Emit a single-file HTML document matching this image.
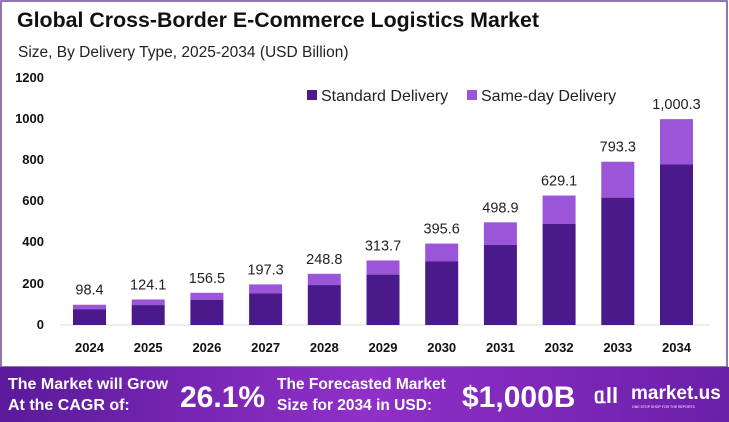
<!DOCTYPE html>
<html><head><meta charset="utf-8"><style>
body{margin:0;width:729px;height:422px;overflow:hidden;background:#fff;font-family:"Liberation Sans",sans-serif;}
</style></head><body>
<svg width="729" height="422" xmlns="http://www.w3.org/2000/svg" style="position:absolute;left:0;top:0">
<defs>
<linearGradient id="ft" x1="0" y1="0" x2="1" y2="0">
<stop offset="0" stop-color="#5a1a9a"/><stop offset="0.5" stop-color="#9030c8"/><stop offset="1" stop-color="#6a1fa8"/>
</linearGradient>
</defs>
<rect x="1" y="1" width="726" height="366" fill="#fff" stroke="#6b4a9a" stroke-width="1.5"/>
<text x="17" y="27" font-size="21" font-weight="bold" fill="#111" textLength="522" lengthAdjust="spacingAndGlyphs">Global Cross-Border E-Commerce Logistics Market</text>
<text x="18" y="57" font-size="15.5" fill="#222">Size, By Delivery Type, 2025-2034 (USD Billion)</text>
<g font-size="13" font-weight="bold" fill="#111" text-anchor="end">
<text x="44" y="82">1200</text><text x="44" y="123">1000</text><text x="44" y="164">800</text>
<text x="44" y="205">600</text><text x="44" y="246">400</text><text x="44" y="288">200</text><text x="44" y="329">0</text>
</g>
<line x1="60" y1="325" x2="710" y2="325" stroke="#ddd" stroke-width="1"/>
<rect x="307" y="90" width="10" height="10" fill="#4a1a8a"/>
<text x="321" y="101" font-size="16" fill="#222">Standard Delivery</text>
<rect x="467" y="90" width="10" height="10" fill="#9b55d8"/>
<text x="481" y="101" font-size="16" fill="#222">Same-day Delivery</text>
<g id="bars"></g>
<rect x="0" y="367" width="729" height="55" fill="url(#ft)"/>
<g fill="#fff" font-weight="bold">
<text x="8" y="389" font-size="16">The Market will Grow</text>
<text x="8" y="410" font-size="16">At the CAGR of:</text>
<text x="180" y="407" font-size="30">26.1%</text>
<text x="277" y="389" font-size="15.5">The Forecasted Market</text>
<text x="277" y="410" font-size="15.5">Size for 2034 in USD:</text>
<text x="462" y="407" font-size="30">$1,000B</text>
<text x="631" y="399" font-size="19">market.us</text>
<text x="632" y="408" font-size="3.5" font-weight="normal">ONE STOP SHOP FOR THE REPORTS</text>
<text x="594" y="403" font-size="22">ᥲll</text>
</g>
</svg>
<script>
var v=[98.4,124.1,156.5,197.3,248.8,313.7,395.6,498.9,629.1,793.3,1000.3];
var s='';var k=0.2058,z=325;
for(var i=0;i<11;i++){var x=73+i*58.7,h=v[i]*k,d=h*0.78;
s+='<rect x="'+x+'" y="'+(z-h)+'" width="33" height="'+(h-d)+'" fill="#9b55d8"/>';
s+='<rect x="'+x+'" y="'+(z-d)+'" width="33" height="'+d+'" fill="#4a1a8a"/>';
var lab=v[i]>=1000?'1,000.3':v[i].toFixed(1);
s+='<text x="'+(x+16.5)+'" y="'+(z-h-10)+'" font-size="14.5" fill="#222" text-anchor="middle">'+lab+'</text>';
s+='<text x="'+(x+16.5)+'" y="352" font-size="13" font-weight="bold" fill="#111" text-anchor="middle">'+(2024+i)+'</text>';}
document.getElementById('bars').innerHTML=s;
</script>
</body></html>
